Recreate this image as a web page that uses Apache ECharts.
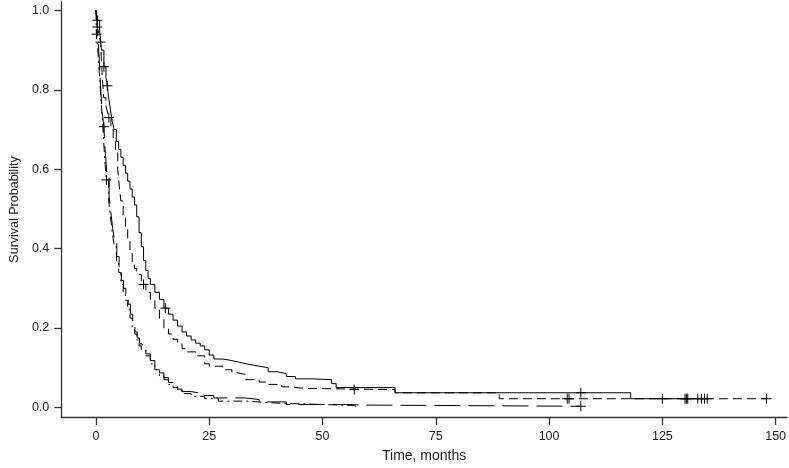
<!DOCTYPE html>
<html>
<head>
<meta charset="utf-8">
<script src="https://cdn.jsdelivr.net/npm/echarts@6/dist/echarts.min.js"></script>
<style>html,body{margin:0;padding:0;background:#fff}#c{width:789px;height:468px}</style>
</head>
<body>
<div id="c"></div>
<script>
// Kaplan-Meier step curves: [time (months), survival probability]
const solidCurve = [
  [0,1],[0.3,0.975],[0.8,0.95],[1.2,0.9],[1.75,0.858],[2.2,0.83],[2.5,0.81],[2.8,0.78],[3.2,0.75],[3.6,0.72],
  [4,0.7],[4.5,0.67],[5,0.65],[5.5,0.63],[6,0.61],[6.5,0.59],[7,0.57],[7.5,0.55],[8,0.53],[8.5,0.51],
  [9,0.48],[9.5,0.44],[10,0.405],[10.5,0.37],[11,0.345],[11.5,0.325],[12,0.31],[13,0.29],[14,0.272],[15,0.25],
  [16,0.235],[17,0.22],[18,0.205],[19,0.19],[20,0.18],[21,0.17],[22,0.162],[23,0.155],[24,0.145],[25,0.132],
  [26,0.122],[28,0.118],[30,0.113],[32,0.108],[34,0.104],[36,0.1],[38,0.09],[40,0.085],[42,0.078],[44,0.072],
  [48,0.07],[52,0.06],[53,0.05],[66,0.037],[118,0.022],[135,0.022]
];
const shortDashCurve = [
  [0,1],[0.3,0.958],[0.7,0.935],[1.0,0.92],[1.3,0.85],[1.7,0.78],[2.2,0.76],[2.6,0.74],[2.85,0.73],[3.3,0.7],
  [3.8,0.67],[4.3,0.648],[4.8,0.6],[5.2,0.55],[5.5,0.52],[6,0.48],[6.5,0.45],[7,0.42],[7.5,0.39],[8,0.365],
  [8.5,0.35],[9,0.335],[10,0.31],[11,0.29],[12,0.272],[13,0.25],[14,0.225],[15,0.2],[16,0.185],[17,0.172],
  [18,0.16],[19,0.148],[20,0.14],[22,0.13],[24,0.11],[25,0.104],[28,0.095],[30,0.088],[31,0.083],[33,0.07],
  [36,0.064],[38,0.058],[41,0.052],[43,0.048],[46,0.045],[66,0.037],[89,0.022],[148,0.022]
];
const dashDotCurve = [
  [0,1],[0.1,0.94],[0.4,0.9],[0.8,0.83],[1.1,0.774],[1.4,0.73],[1.8,0.65],[2.1,0.6],[2.3,0.573],[2.8,0.52],
  [3.2,0.48],[3.6,0.44],[4,0.41],[4.5,0.37],[5,0.34],[5.5,0.31],[6,0.29],[6.5,0.27],[7,0.25],[7.5,0.225],
  [8,0.2],[8.5,0.185],[9,0.17],[9.5,0.155],[10,0.145],[11,0.13],[12,0.11],[13,0.095],[14,0.08],[15,0.07],
  [16,0.058],[17,0.05],[18,0.042],[19,0.035],[21,0.028],[24,0.022],[27,0.016],[33,0.011],[40,0.0075],[50,0.005],
  [57,0.0],[58,0.0]
];
const longDashCurve = [
  [0,1],[0.3,0.96],[0.7,0.88],[1.1,0.79],[1.4,0.74],[1.75,0.707],[2.0,0.65],[2.4,0.59],[2.9,0.53],[3.3,0.49],
  [3.7,0.45],[4.1,0.42],[4.6,0.38],[5.1,0.35],[5.6,0.32],[6.1,0.3],[6.6,0.28],[7.1,0.26],[7.6,0.235],[8.1,0.21],
  [8.6,0.19],[9.1,0.175],[9.6,0.16],[10.2,0.15],[11,0.135],[12,0.118],[13,0.1],[14,0.087],[15,0.075],[16,0.063],
  [17,0.054],[18,0.046],[19,0.04],[21,0.036],[23,0.03],[26,0.024],[33,0.02],[36,0.014],[42,0.0075],[55,0.006],
  [60,0.003],[107,0.003]
];
// Censoring times for each curve
const solidCensor = [0.3, 1.75, 2.5, 15.3, 107];
const shortDashCensor = [0.3, 1.0, 2.85, 10.5, 57, 104, 104.4, 125, 130, 130.3, 130.6, 132.8, 133.6, 134.3, 134.9, 148];
const dashDotCensor = [0.1, 2.3];
const longDashCensor = [1.75, 107];

const xTicks = [0, 25, 50, 75, 100, 125, 150];
const yTicks = [0, 0.2, 0.4, 0.6, 0.8, 1.0];

function survAt(curve, t) {
  let s = curve[0][1];
  for (const p of curve) { if (p[0] <= t) s = p[1]; }
  return s;
}
function censorPts(curve, times) { return times.map(t => [t, survAt(curve, t)]); }

const plusSym = 'path://M0,5L10,5M5,0L5,10';
function lineSeries(data, dash) {
  return {type: 'line', data: data, step: 'end', showSymbol: false, symbol: 'none', silent: true,
    lineStyle: {color: '#000', width: 1, type: dash}, z: 2};
}
function censorSeries(data) {
  return {type: 'scatter', data: data, symbol: plusSym, symbolSize: [10, 10], silent: true,
    itemStyle: {color: 'rgba(0,0,0,0)', borderColor: '#000', borderWidth: 1, opacity: 1}, z: 3};
}

const chart = echarts.init(document.getElementById('c'), null, {renderer: 'canvas'});
const font = 'Liberation Sans, Arial, sans-serif';
chart.setOption({
  animation: false,
  backgroundColor: '#fff',
  grid: {left: 56.7, right: 1, top: 2, bottom: 49.7, containLabel: false},
  xAxis: {
    type: 'value', min: -7.66, max: 152.5,
    name: 'Time, months', nameLocation: 'middle', nameGap: 32,
    nameTextStyle: {fontFamily: font, fontSize: 14, color: '#222'},
    axisLine: {show: true, onZero: false, lineStyle: {color: '#333', width: 1.3}},
    axisTick: {show: true, length: 8, inside: false, customValues: xTicks, lineStyle: {color: '#333', width: 1.3}},
    axisLabel: {customValues: xTicks, margin: 13, fontFamily: font, fontSize: 12.5, color: '#222'},
    splitLine: {show: false}
  },
  yAxis: {
    type: 'value', min: -0.024, max: 1.021,
    name: 'Survival Probability', nameLocation: 'middle', nameGap: 38,
    nameTextStyle: {fontFamily: font, fontSize: 12.5, color: '#222'},
    axisLine: {show: true, onZero: false, lineStyle: {color: '#333', width: 1.3}},
    axisTick: {show: true, length: 7, inside: false, customValues: yTicks, lineStyle: {color: '#333', width: 1.3}},
    axisLabel: {customValues: yTicks, margin: 12, fontFamily: font, fontSize: 12.5, color: '#222',
      formatter: v => v.toFixed(1)},
    splitLine: {show: false}
  },
  series: [
    lineSeries(solidCurve, 'solid'),
    lineSeries(shortDashCurve, [9, 5]),
    lineSeries(dashDotCurve, [9, 4, 2, 4]),
    lineSeries(longDashCurve, [26, 8]),
    censorSeries(censorPts(solidCurve, solidCensor)),
    censorSeries(censorPts(shortDashCurve, shortDashCensor)),
    censorSeries(censorPts(dashDotCurve, dashDotCensor)),
    censorSeries(censorPts(longDashCurve, longDashCensor))
  ]
});
</script>
</body>
</html>
